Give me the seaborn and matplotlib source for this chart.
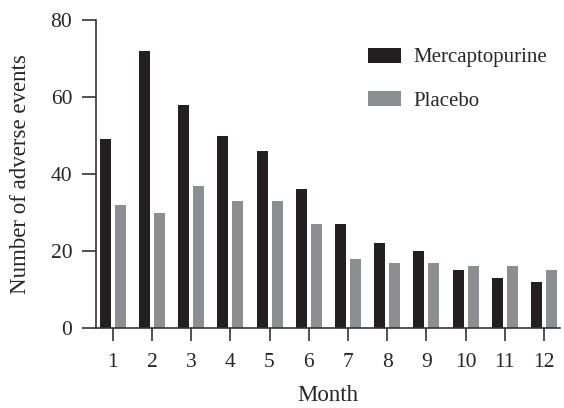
import pandas as pd
import seaborn as sns
import matplotlib.pyplot as plt

# values
months = [1, 2, 3, 4, 5, 6, 7, 8, 9, 10, 11, 12]
mercaptopurine = [49, 72, 58, 50, 46, 36, 27, 22, 20, 15, 13, 12]
placebo = [32, 30, 37, 33, 33, 27, 18, 17, 17, 16, 16, 15]
groups = ['Mercaptopurine', 'Placebo']
colors = ['#231F20', '#8D8E91']

df = pd.DataFrame({
    'Month': months * 2,
    'Events': mercaptopurine + placebo,
    'Group': [groups[0]] * len(months) + [groups[1]] * len(months),
})

sns.set_style('ticks')
plt.rcParams['font.family'] = ['Liberation Serif', 'DejaVu Serif']

fig = plt.figure(figsize=(5.64, 4.08), dpi=100)
ax = fig.add_axes([0.170, 0.196, 0.823, 0.755])

sns.barplot(data=df, x='Month', y='Events', hue='Group', hue_order=groups,
            palette=colors, width=0.765, gap=0.27, saturation=1,
            edgecolor='none', linewidth=0, ax=ax)

ax.set_ylim(0, 80)
ax.set_yticks([0, 20, 40, 60, 80])
ax.set_xlim(-0.43, 11.41)
ax.set_xlabel('Month', fontsize=16.5, labelpad=9)
ax.set_ylabel('Number of adverse events', fontsize=16.5, labelpad=14)

sns.despine(ax=ax)
for side in ['left', 'bottom']:
    ax.spines[side].set_linewidth(1.2)
    ax.spines[side].set_color('#333333')
ax.tick_params(axis='y', length=10, width=1.2, color='#333333', pad=7, labelsize=15.5)
ax.tick_params(axis='x', length=9, width=1.2, color='#333333', pad=9, labelsize=15.5)

leg = ax.legend(loc='upper left', frameon=False, fontsize=15,
                handlelength=1.6, handleheight=0.72, labelspacing=1.15,
                handletextpad=0.58, borderpad=0, borderaxespad=0)
leg.set_bbox_to_anchor((0.652, 0.883), transform=fig.transFigure)

fig.savefig('out.png', dpi=100)
